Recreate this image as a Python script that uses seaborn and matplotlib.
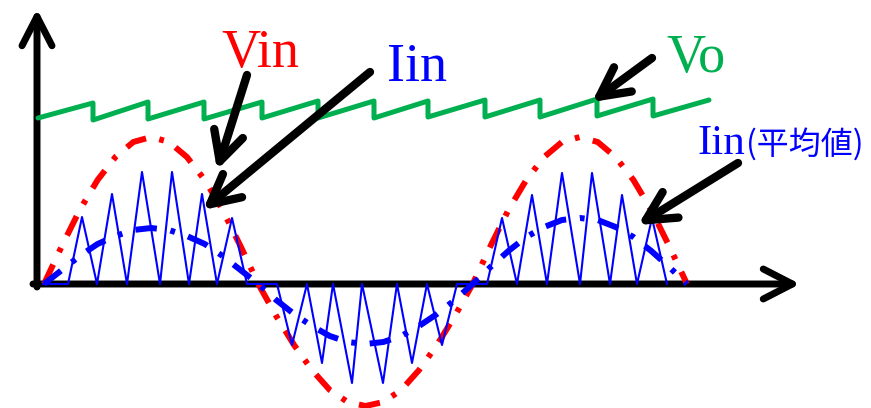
import numpy as np
import matplotlib
matplotlib.use("Agg")
import matplotlib.pyplot as plt
import seaborn as sns

# waveform data (x = time position, y = level above the time axis)
vin_t = np.linspace(44, 687, 37)
vin = [0, 38, 74, 104, 127, 142, 147, 142, 127, 104, 74, 38, 0,
       -32, -61, -86, -106, -118, -122, -118, -106, -86, -61, -32, 0,
       38, 74, 104, 127, 142, 147, 142, 127, 104, 74, 38, 0]
iin_avg = [0, 14, 28, 40, 48, 54, 56, 54, 48, 40, 28, 14, 0,
           -16, -30, -42, -52, -58, -60, -58, -52, -42, -30, -16, 0,
           17, 33, 47, 57, 64, 66, 64, 57, 47, 33, 17, 0]

iin_t = [43, 68, 82, 97, 112, 127, 142, 160, 172, 189, 202, 217, 232, 247,
         277, 292, 307, 322, 333, 352, 362, 383, 397, 412, 427, 442, 457,
         487, 502, 517, 532, 547, 562, 580, 592, 610, 622, 637, 652, 667]
iin = [0, 0, 67, 0, 90, 0, 112, 0, 112, 0, 90, 0, 66, 0,
       0, -61, 0, -79, 0, -99, 0, -99, 0, -79, 0, -61, 0,
       0, 66, 0, 89, 0, 111, 0, 111, 0, 89, 0, 66, 0]

vo_start = (38, 166)
vo_end = (709, 184)
vo_drop_t = [93, 148, 204, 262, 318, 374, 428, 485, 540, 597, 653]
vo_top = [181, 182, 182, 182, 183, 183, 183, 184, 184, 185, 185]
vo_bottom = [164, 165, 165, 166, 166, 166, 167, 167, 167, 168, 168]

RED = "#FF0000"
BLUE = "#0000FF"
GREEN = "#00B050"

sns.set_theme(style="white")
fig = plt.figure(figsize=(8.71, 4.08), dpi=100)
ax = fig.add_axes([0, 0, 1, 1])
ax.set_xlim(0, 871)
ax.set_ylim(-124, 284)
ax.set_axis_off()

# Vo sawtooth
vo_x = [vo_start[0]]
vo_y = [vo_start[1]]
for t, top, bot in zip(vo_drop_t, vo_top, vo_bottom):
    vo_x += [t, t]
    vo_y += [top, bot]
vo_x.append(vo_end[0])
vo_y.append(vo_end[1])
sns.lineplot(x=vo_x, y=vo_y, ax=ax, color=GREEN, lw=3.6, sort=False,
             estimator=None, zorder=2)

dashdot = (0, (3.6, 2.3, 0.8, 2.3))
sns.lineplot(x=vin_t, y=vin, ax=ax, color=RED, lw=4.3, linestyle=dashdot,
             sort=False, estimator=None, zorder=3)
sns.lineplot(x=iin_t, y=iin, ax=ax, color=BLUE, lw=1.5, sort=False,
             estimator=None, zorder=4)
sns.lineplot(x=vin_t, y=iin_avg, ax=ax, color=BLUE, lw=4.3, linestyle=dashdot,
             sort=False, estimator=None, zorder=5)

# axes arrows
axis_style = dict(arrowstyle="->,head_length=1.05,head_width=0.54", lw=5,
                  color="black", mutation_scale=20, shrinkA=0, shrinkB=0,
                  capstyle="round", joinstyle="round")
ax.annotate("", xy=(37, 275), xytext=(37, -3), arrowprops=axis_style, zorder=1)
ax.annotate("", xy=(800, 0), xytext=(33, 0), arrowprops=axis_style, zorder=1)

# pointer arrows
ptr_style = dict(arrowstyle="->,head_length=1.05,head_width=0.54", lw=6,
                 color="black", mutation_scale=20, shrinkA=0, shrinkB=0,
                 capstyle="round", joinstyle="round")
for tail, tip in [((247, 209), (217, 114)), ((370, 212), (203, 74)),
                  ((652, 226), (592, 182)), ((738, 121), (638, 59))]:
    ax.annotate("", xy=tip, xytext=tail, arrowprops=ptr_style, zorder=6)

serif = "Liberation Serif"
ax.text(221, 217, "Vin", color=RED, fontsize=39, family=serif, ha="left", va="baseline")
ax.text(387, 203, "Iin", color=BLUE, fontsize=39, family=serif, ha="left", va="baseline")
ax.text(666, 212, "Vo", color=GREEN, fontsize=39, family=serif, ha="left", va="baseline")
ax.text(697, 130, "Iin", color=BLUE, fontsize=31, family=serif, ha="left", va="baseline")
ax.text(746, 130, "(平均値)", color=BLUE, fontsize=23, family="Noto Sans CJK JP",
        ha="left", va="baseline")

fig.savefig("out.png", dpi=100)
